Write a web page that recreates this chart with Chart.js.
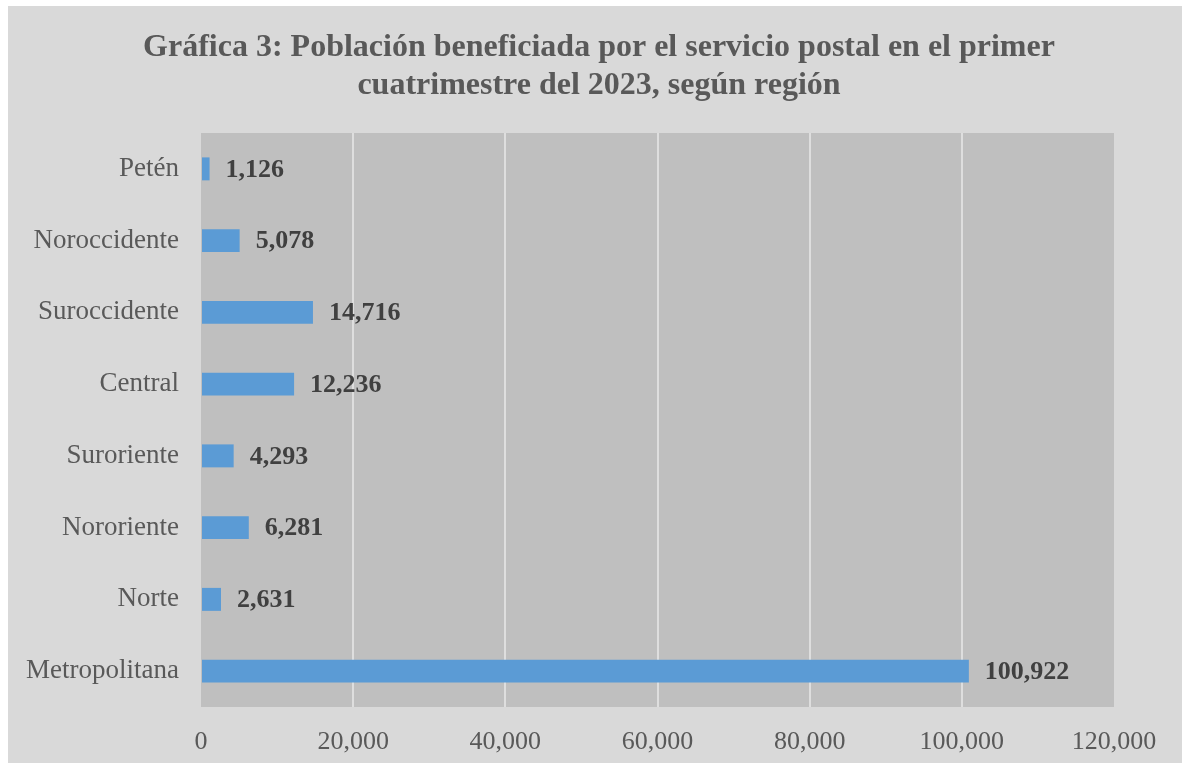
<!DOCTYPE html>
<html>
<head>
<meta charset="utf-8">
<script src="https://cdn.jsdelivr.net/npm/chart.js@4"></script>
<style>
  html, body { margin: 0; padding: 0; background: #fff; }
  #wrap { position: absolute; left: 8px; top: 6px; width: 1174px; height: 757px; background: #d9d9d9; }
  canvas { display: block; }
</style>
</head>
<body>
<div id="wrap"><canvas id="chart" width="1174" height="757"></canvas></div>
<script>
// Regions, top to bottom as in the picture
const REGIONS = ['Petén', 'Noroccidente', 'Suroccidente', 'Central', 'Suroriente', 'Nororiente', 'Norte', 'Metropolitana'];
const POPULATION = [1126, 5078, 14716, 12236, 4293, 6281, 2631, 100922];

const X_MIN = 0;
const X_MAX = 120000;
const X_STEP = 20000;

const TITLE_LINES = [
  'Gráfica 3: Población beneficiada por el servicio postal en el primer',
  'cuatrimestre del 2023, según región'
];

const SERIF = "'Liberation Serif', 'Times New Roman', serif";
const TEXT_COLOR = '#595959';
const LABEL_COLOR = '#404040';
const BAR_COLOR = '#5b9bd5';
const PLOT_BG = '#bfbfbf';
const GRID_COLOR = '#dedede';

const fmtNum = v => v.toLocaleString('en-US');

// Fill the plot area darker grey, like the Excel original
const plotBackground = {
  id: 'plotBackground',
  beforeDraw(chart) {
    const { ctx, chartArea: a } = chart;
    ctx.save();
    ctx.fillStyle = PLOT_BG;
    ctx.fillRect(a.left, a.top, a.right - a.left, a.bottom - a.top);
    ctx.restore();
  }
};

// Title centred on the whole chart box (the built-in one follows the padding)
const chartTitle = {
  id: 'chartTitle',
  afterDraw(chart) {
    const { ctx } = chart;
    ctx.save();
    ctx.font = "bold 32px " + SERIF;
    ctx.fillStyle = TEXT_COLOR;
    ctx.textAlign = 'center';
    ctx.textBaseline = 'middle';
    TITLE_LINES.forEach((line, i) => ctx.fillText(line, 591, 42 + i * 38));
    ctx.restore();
  }
};

// Bold value labels to the right of each bar
const valueLabels = {
  id: 'valueLabels',
  afterDatasetsDraw(chart) {
    const { ctx } = chart;
    const meta = chart.getDatasetMeta(0);
    ctx.save();
    ctx.font = "bold 26px " + SERIF;
    ctx.fillStyle = LABEL_COLOR;
    ctx.textAlign = 'left';
    ctx.textBaseline = 'middle';
    meta.data.forEach((bar, i) => {
      ctx.fillText(fmtNum(POPULATION[i]), bar.x + 16, bar.y + 1);
    });
    ctx.restore();
  }
};

new Chart(document.getElementById('chart'), {
  type: 'bar',
  data: {
    labels: REGIONS,
    datasets: [{
      data: POPULATION,
      backgroundColor: BAR_COLOR,
      borderWidth: 0,
      barPercentage: 0.32,
      categoryPercentage: 1
    }]
  },
  options: {
    indexAxis: 'y',
    responsive: false,
    animation: false,
    layout: { padding: { left: 0, right: 68, top: 127, bottom: 0 } },
    plugins: {
      legend: { display: false },
      tooltip: { enabled: false },
      title: { display: false }
    },
    scales: {
      x: {
        min: X_MIN,
        max: X_MAX,
        border: { display: false },
        grid: {
          drawTicks: false,
          lineWidth: 2,
          color: c => (c.tick && (c.tick.value === X_MIN || c.tick.value === X_MAX)) ? 'transparent' : GRID_COLOR
        },
        ticks: {
          stepSize: X_STEP,
          color: TEXT_COLOR,
          font: { family: SERIF, size: 26 },
          padding: 20,
          maxRotation: 0,
          callback: v => fmtNum(v)
        },
        afterFit(scale) { scale.height = 56; }
      },
      y: {
        border: { display: false },
        grid: { display: false, drawTicks: false },
        ticks: {
          color: TEXT_COLOR,
          font: { family: SERIF, size: 27 },
          padding: 22
        },
        afterFit(scale) { scale.width = 193; }
      }
    }
  },
  plugins: [plotBackground, chartTitle, valueLabels]
});
</script>
</body>
</html>
